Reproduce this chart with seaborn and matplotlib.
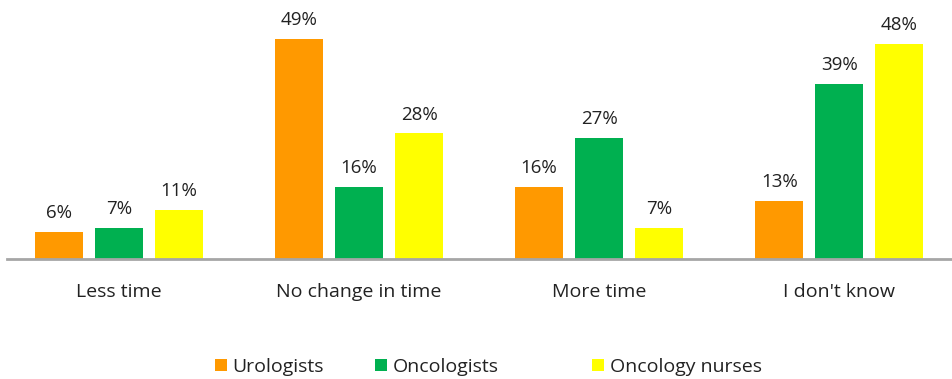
import matplotlib
matplotlib.use("Agg")
import matplotlib.pyplot as plt
from matplotlib.patches import Patch
import seaborn as sns
import pandas as pd

categories = ["Less time", "No change in time", "More time", "I don't know"]
groups = ["Urologists", "Oncologists", "Oncology nurses"]
urologists = [6, 49, 16, 13]
oncologists = [7, 16, 27, 39]
oncology_nurses = [11, 28, 7, 48]
colors = ["#FF9900", "#00B050", "#FFFF00"]

rows = []
for g, vals in zip(groups, [urologists, oncologists, oncology_nurses]):
    for c, v in zip(categories, vals):
        rows.append({"category": c, "group": g, "value": v})
df = pd.DataFrame(rows)

sns.set_theme(style="white")
plt.rcParams["font.family"] = ["Open Sans", "DejaVu Sans"]

fig = plt.figure(figsize=(9.52, 3.79), dpi=100)
ax = fig.add_axes([7 / 952, 1 - 259 / 379, 945 / 952, 259 / 379])

sns.barplot(data=df, x="category", y="value", hue="group", order=categories,
            hue_order=groups, palette=colors, width=0.75, gap=0.2,
            saturation=1, legend=False, ax=ax, edgecolor="none")

for cont, vals in zip(ax.containers, [urologists, oncologists, oncology_nurses]):
    ax.bar_label(cont, labels=[f"{v}%" for v in vals], padding=7,
                 fontsize=13.5, color="#222222")

ax.set_xlim(-0.467, 3.47)
ax.set_ylim(0, 57.7)
ax.set_xlabel("")
ax.set_ylabel("")
ax.set_yticks([])
ax.tick_params(axis="x", length=0, pad=17, labelsize=14, labelcolor="#222222")
for s in ["top", "right", "left"]:
    ax.spines[s].set_visible(False)
ax.spines["bottom"].set_color("#A6A6A6")
ax.spines["bottom"].set_linewidth(2)
ax.set_facecolor("none")

# legend entries placed individually along the bottom
legend_x = [215, 375, 592]
for c, g, x in zip(colors, groups, legend_x):
    fig.legend([Patch(facecolor=c, edgecolor="none")], [g], loc="center left",
               bbox_to_anchor=(x / 952, 1 - 367 / 379), frameon=False,
               fontsize=14, handlelength=0.6, handleheight=0.6,
               handletextpad=0.3, borderpad=0, borderaxespad=0,
               labelcolor="#222222")

fig.savefig("out.png", dpi=100)
